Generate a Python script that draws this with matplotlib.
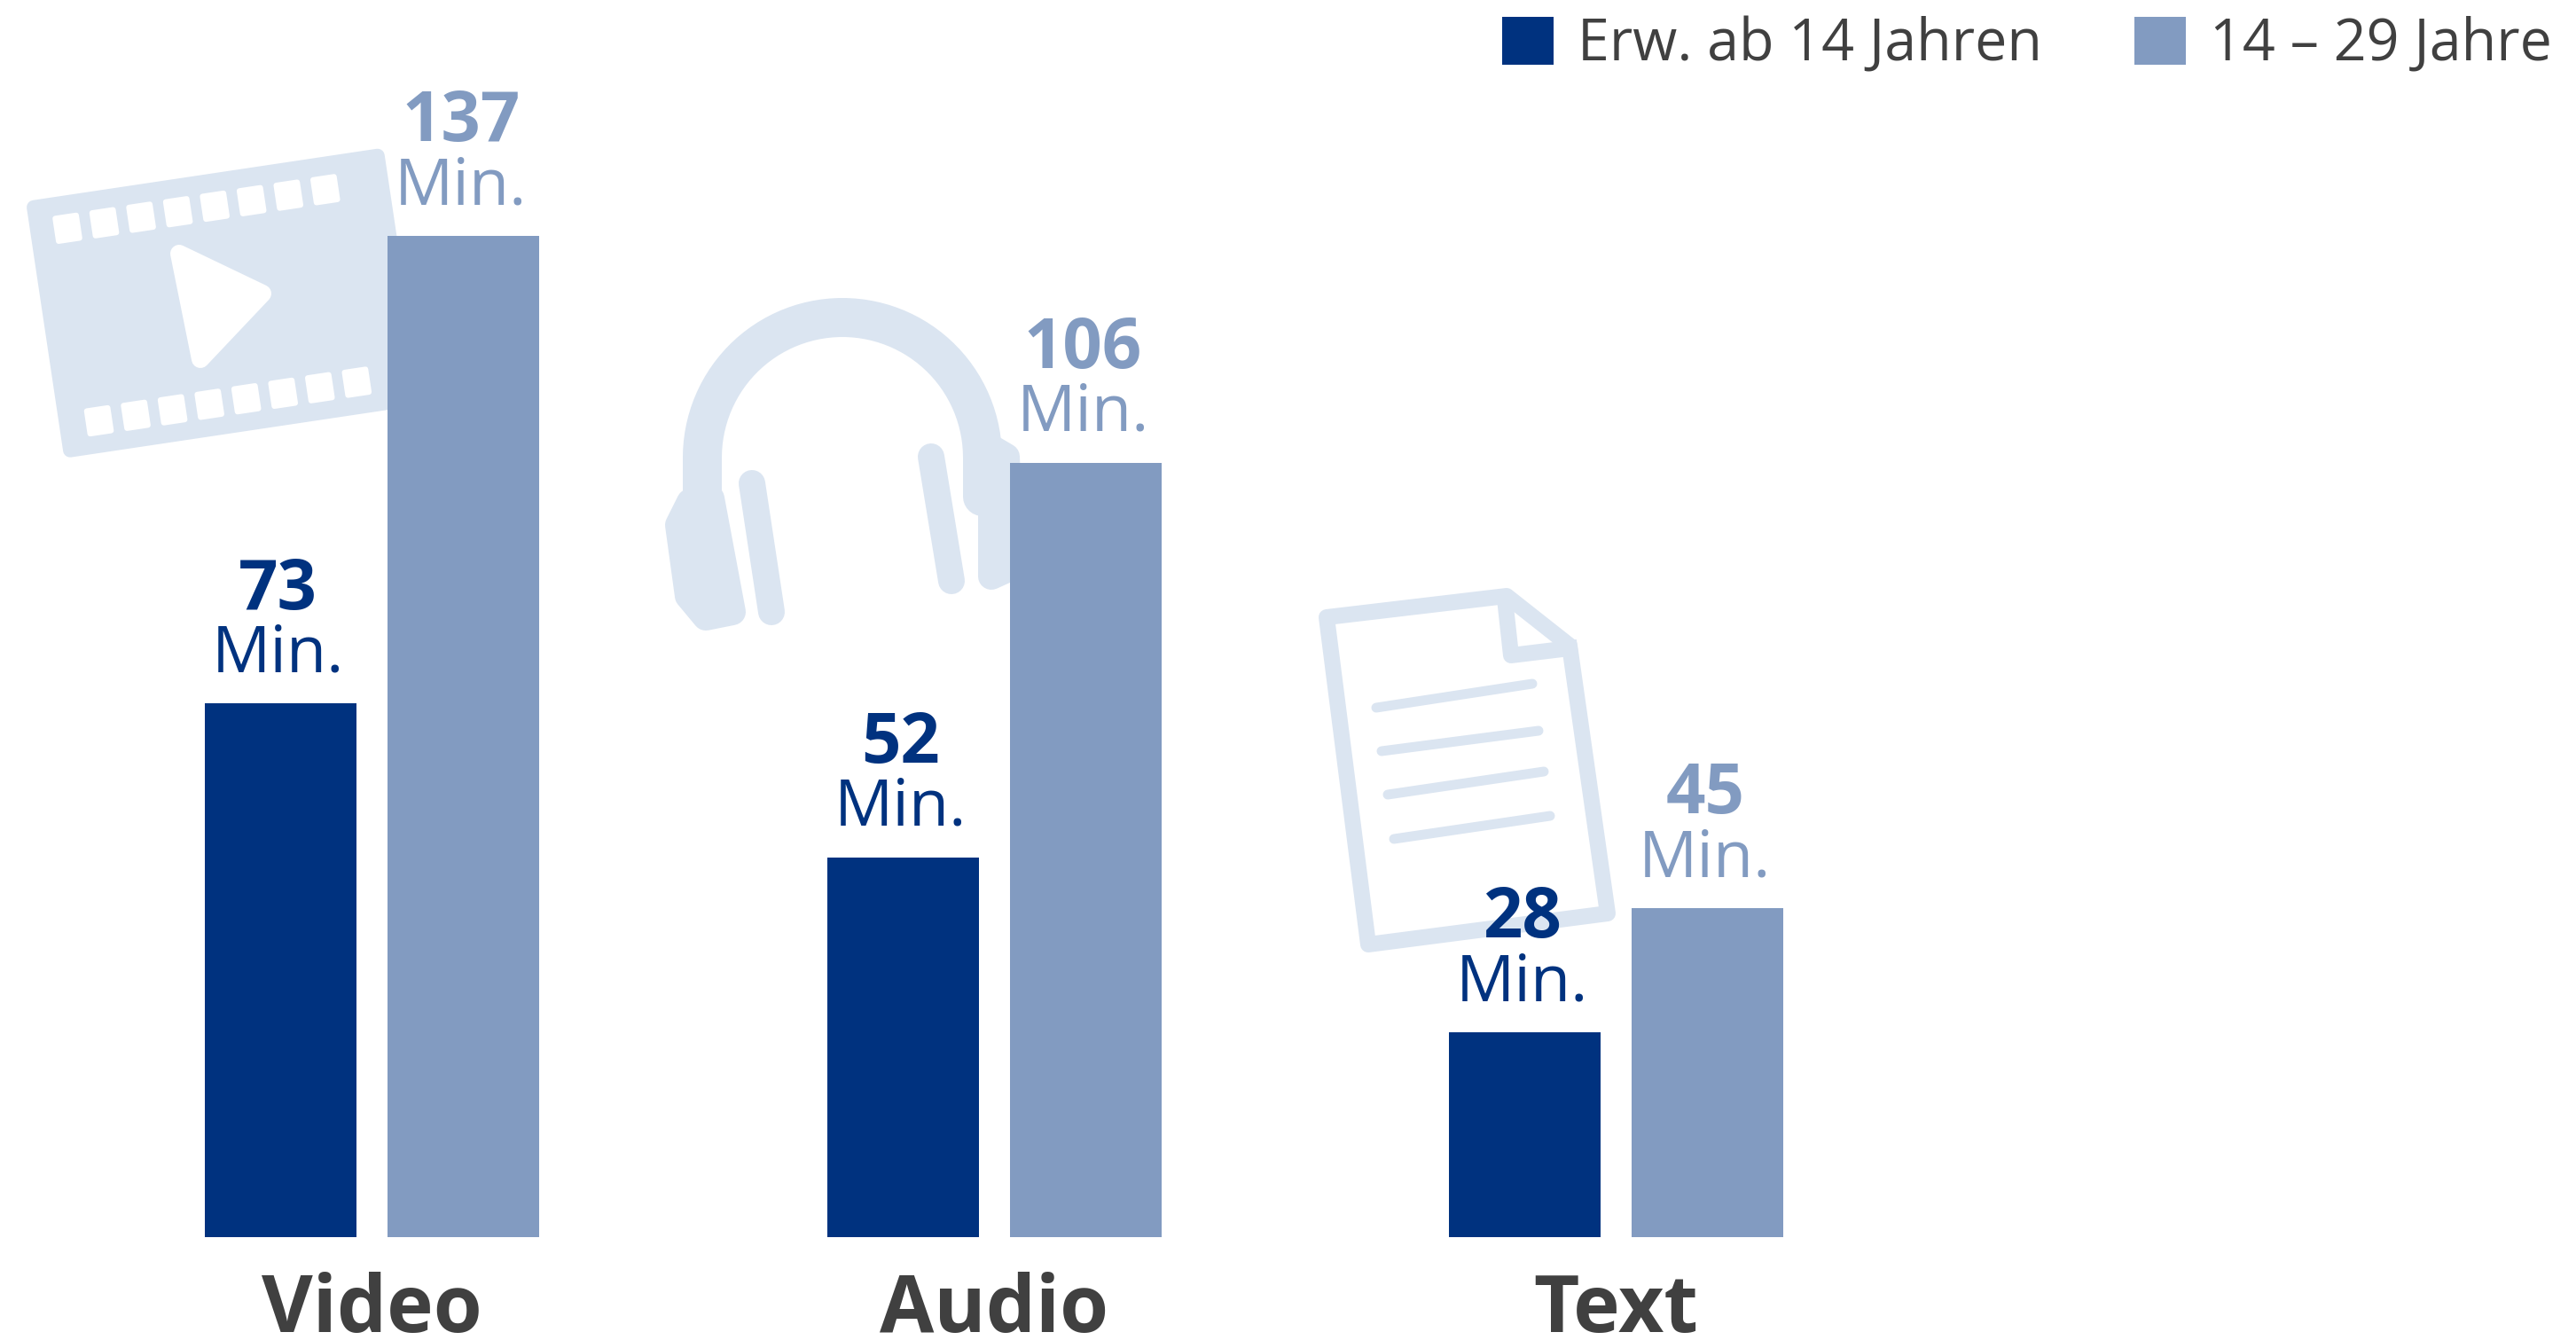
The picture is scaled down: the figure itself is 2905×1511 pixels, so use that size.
import numpy as np
import matplotlib
matplotlib.use("Agg")
import matplotlib.pyplot as plt
from matplotlib.patches import Polygon

plt.rcParams['font.family'] = ['Open Sans', 'DejaVu Sans']

categories = ['Video', 'Audio', 'Text']
series_names = ['Erw. ab 14 Jahren', '14 – 29 Jahre']
adults = [73, 52, 28]
young = [137, 106, 45]
unit = 'Min.'

DARK = '#00327f'
LIGHT = '#829bc1'
ICON = '#dbe5f1'
TEXT = '#404040'

W, H = 2905, 1511
BASE = 1395
fig = plt.figure(figsize=(W / 100, H / 100), dpi=100, facecolor='white')


def px(v):
    # pixel width to points
    return v * 0.72


def draw_icons(ia):
    # film strip
    o = np.array([29, 227])
    u = np.array([0.989, -0.148])
    v = np.array([0.148, 0.989])

    def loc(a, b):
        return o + a * u + b * v

    def rect(a, b, w, h, col, lw):
        pts = [loc(a, b), loc(a + w, b), loc(a + w, b + h), loc(a, b + h)]
        ia.add_patch(Polygon(pts, closed=True, fc=col, ec=col, lw=px(lw), joinstyle='round'))

    rect(8, 8, 392, 277, ICON, 16)
    for i in range(8):
        rect(42 + 42 * i - 12, 37 - 13, 24, 26, 'white', 6)
        rect(45 + 42 * i - 12, 257 - 13, 24, 26, 'white', 6)
    ia.add_patch(Polygon([(202, 286), (296, 331), (226, 405)], closed=True, fc='white', ec='white',
                         lw=px(20), joinstyle='round'))

    # headphones
    t = np.radians(np.linspace(180, 360, 60))
    band_x = [792] + list(950 + 158 * np.cos(t)) + [1108]
    band_y = [590] + list(516 + 158 * np.sin(t)) + [560]
    ia.plot(band_x, band_y, color=ICON, lw=px(44), solid_capstyle='round')
    ia.add_patch(Polygon([(778, 566), (802, 562), (826, 690), (796, 696), (776, 672), (765, 592)],
                         closed=True, fc=ICON, ec=ICON, lw=px(30), joinstyle='round'))
    ia.add_patch(Polygon([(1118, 505), (1135, 515), (1140, 640), (1118, 650)],
                         closed=True, fc=ICON, ec=ICON, lw=px(30), joinstyle='round'))
    ia.plot([848, 870], [545, 690], color=ICON, lw=px(30), solid_capstyle='round')
    ia.plot([1050, 1073], [515, 655], color=ICON, lw=px(30), solid_capstyle='round')

    # document
    ia.add_patch(Polygon([(1496, 696), (1699, 672), (1770, 728), (1813, 1030), (1543, 1065)],
                         closed=True, fc='white', ec=ICON, lw=px(18), joinstyle='round'))
    ia.plot([1697, 1704, 1770], [675, 739, 731], color=ICON, lw=px(18), solid_joinstyle='round')
    for x0, y0, x1, y1 in [(1552, 798, 1728, 771), (1558, 847, 1735, 824),
                           (1565, 896, 1741, 870), (1572, 946, 1748, 920)]:
        ia.plot([x0, x1], [y0, y1], color=ICON, lw=px(11), solid_capstyle='round')


ia = fig.add_axes([0, 0, 1, 1], zorder=0)
ia.set_xlim(0, W)
ia.set_ylim(H, 0)
ia.axis('off')
draw_icons(ia)

ax = fig.add_axes([0, (H - BASE) / H, 1, BASE / H], zorder=1)
ax.patch.set_alpha(0)
group_px = 701.5
ax.set_xlim(-419.5 / group_px, (W - 419.5) / group_px)
ax.set_ylim(0, BASE / 8.24)
x = np.arange(len(categories))
width = 171 / group_px
off = 103 / group_px
b1 = ax.bar(x - off, adults, width, color=DARK, label=series_names[0])
b2 = ax.bar(x + off, young, width, color=LIGHT, label=series_names[1])

for bars, vals, col in [(b1, adults, DARK), (b2, young, LIGHT)]:
    for r, val in zip(bars, vals):
        cx = r.get_x() + r.get_width() / 2
        ax.annotate(str(val), (cx, val), xytext=(-2, 77), textcoords='offset points', ha='center',
                    va='baseline', fontsize=56, fontweight='bold', color=col)
        ax.annotate(unit, (cx, val), xytext=(-2, 26), textcoords='offset points', ha='center',
                    va='baseline', fontsize=53, color=col)

ax.set_xticks(x, categories)
ax.tick_params(axis='x', length=0, pad=28, labelsize=64, labelcolor=TEXT)
for lab in ax.get_xticklabels():
    lab.set_fontweight('bold')
ax.set_yticks([])
for s in ax.spines.values():
    s.set_visible(False)

ax.legend(loc='upper right', bbox_to_anchor=(2878 / W, 1 - 18 / H), bbox_transform=fig.transFigure,
          ncols=2, frameon=False, fontsize=46.5, labelcolor=TEXT, borderpad=0, borderaxespad=0,
          handlelength=0.9, handleheight=0.9, handletextpad=0.42, columnspacing=1.61)

fig.savefig('out.png', dpi=100)
